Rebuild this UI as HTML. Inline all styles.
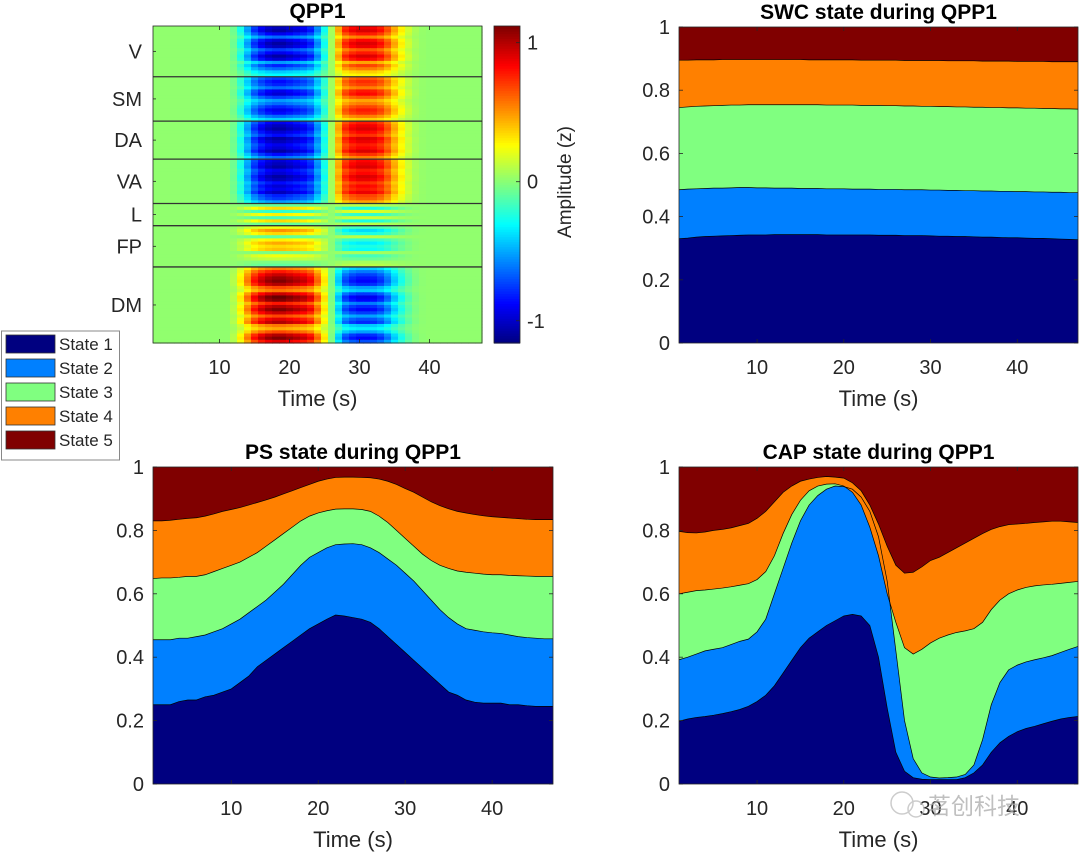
<!DOCTYPE html>
<html><head><meta charset="utf-8"><style>
html,body{margin:0;padding:0;background:#fff;}
svg{display:block;font-family:"Liberation Sans","Noto Sans CJK SC",sans-serif;}
</style></head><body>
<svg id="fig" width="1080" height="854" viewBox="0 0 1080 854">
<g id="hm"></g>
<g id="cb"></g>
<g id="swc"></g>
<g id="ps"></g>
<g id="cap"></g>
<g id="legend"></g>
<g opacity="0.75">
<circle cx="902" cy="803" r="11" fill="none" stroke="#bbb" stroke-width="1.5"/>
<circle cx="916" cy="809" r="8" fill="none" stroke="#bbb" stroke-width="1.5"/>
<text x="928" y="814" font-size="23" fill="#aaa">茗创科技</text>
</g>
</svg>
<script>
// ---------- data ----------
const timePoints = [1,2,3,4,5,6,7,8,9,10,11,12,13,14,15,16,17,18,19,20,21,22,23,24,25,26,27,28,29,30,31,32,33,34,35,36,37,38,39,40,41,42,43,44,45,46,47];
const stateNames = ["State 1","State 2","State 3","State 4","State 5"];
const stateColors = ["#000080","#0080ff","#80ff80","#ff8000","#800000"];

const swcB1 = [.33,.332,.335,.337,.338,.339,.34,.341,.342,.342,.342,.343,.343,.343,.343,.343,.343,.342,.342,.342,.342,.342,.342,.341,.341,.341,.34,.34,.34,.339,.338,.338,.337,.337,.336,.335,.335,.334,.333,.333,.332,.331,.331,.33,.329,.328,.327];
const swcB2 = [.485,.487,.488,.489,.49,.49,.491,.492,.492,.491,.491,.49,.49,.49,.489,.489,.489,.488,.488,.488,.487,.487,.487,.486,.486,.486,.485,.485,.485,.484,.484,.483,.483,.482,.482,.481,.481,.48,.48,.479,.479,.478,.478,.477,.477,.476,.476];
const swcB3 = [.745,.747,.749,.75,.751,.752,.753,.753,.754,.754,.754,.754,.754,.754,.754,.754,.754,.753,.753,.753,.753,.752,.752,.752,.751,.751,.75,.75,.749,.749,.748,.748,.747,.747,.746,.746,.745,.745,.744,.744,.743,.743,.742,.742,.741,.741,.74];
const swcB4 = [.895,.895,.896,.896,.896,.897,.897,.897,.897,.897,.897,.897,.897,.897,.897,.896,.896,.896,.896,.896,.896,.895,.895,.895,.895,.895,.894,.894,.894,.894,.894,.893,.893,.893,.893,.892,.892,.892,.892,.891,.891,.891,.891,.89,.89,.89,.89];

const psB1 = [.25,.25,.25,.26,.265,.265,.275,.28,.29,.30,.32,.34,.37,.39,.41,.43,.45,.47,.49,.505,.52,.533,.53,.525,.52,.51,.49,.465,.44,.415,.39,.365,.34,.315,.29,.28,.265,.258,.255,.255,.255,.25,.25,.247,.245,.245,.245];
const psB2 = [.455,.455,.455,.46,.46,.465,.47,.48,.49,.505,.52,.54,.56,.58,.605,.63,.66,.69,.715,.73,.745,.755,.757,.758,.755,.745,.73,.71,.69,.665,.64,.61,.58,.55,.525,.505,.49,.485,.48,.477,.475,.47,.465,.462,.46,.458,.458];
const psB3 = [.648,.65,.65,.652,.655,.655,.66,.67,.68,.69,.70,.715,.73,.75,.77,.79,.81,.83,.845,.855,.862,.867,.868,.868,.866,.86,.845,.825,.80,.775,.75,.725,.705,.69,.68,.672,.668,.665,.662,.66,.66,.658,.657,.656,.655,.655,.655];
const psB4 = [.83,.83,.832,.835,.838,.84,.845,.852,.86,.866,.872,.88,.888,.896,.905,.915,.925,.935,.945,.955,.962,.967,.968,.968,.967,.966,.962,.955,.945,.932,.92,.905,.89,.878,.868,.86,.855,.85,.846,.843,.841,.839,.837,.835,.834,.834,.834];

const capB1 = [.198,.205,.21,.213,.217,.222,.228,.235,.245,.26,.28,.31,.35,.39,.43,.46,.48,.5,.515,.53,.535,.53,.50,.40,.24,.10,.04,.02,.015,.014,.014,.014,.014,.02,.035,.06,.10,.13,.15,.165,.175,.182,.19,.198,.205,.21,.213];
const capB2 = [.392,.40,.41,.42,.425,.43,.44,.45,.457,.48,.52,.6,.68,.76,.83,.88,.91,.93,.94,.938,.93,.905,.86,.78,.64,.42,.2,.08,.035,.022,.019,.02,.022,.03,.06,.14,.25,.32,.36,.375,.385,.392,.398,.405,.415,.425,.434];
const capB3 = [.60,.605,.61,.612,.615,.618,.622,.627,.632,.645,.67,.72,.79,.85,.895,.925,.94,.946,.947,.94,.92,.88,.81,.72,.6,.51,.43,.41,.425,.445,.46,.47,.478,.483,.49,.51,.55,.58,.6,.612,.62,.625,.628,.63,.633,.636,.639];
const capB4 = [.797,.793,.792,.795,.8,.803,.808,.815,.822,.838,.86,.89,.92,.94,.955,.962,.967,.97,.968,.965,.95,.925,.88,.82,.75,.69,.665,.668,.685,.705,.715,.73,.745,.76,.775,.79,.803,.812,.818,.82,.822,.825,.827,.829,.829,.827,.825];

const yTicks = [0,0.2,0.4,0.6,0.8,1];
const yTickLabels = ["0","0.2","0.4","0.6","0.8","1"];
const xTicks = [10,20,30,40];
const xTickLabels = ["10","20","30","40"];

// heatmap data: temporal profile x per-row amplitude
const qppProfile = [0,0,0,0,0,0,0,0,0,0,0,-0.08,-0.28,-0.55,-0.8,-0.95,-1.05,-1.1,-1.1,-1.05,-1.0,-0.95,-0.85,-0.6,-0.3,0.05,0.45,0.75,0.85,0.9,0.9,0.88,0.8,0.65,0.45,0.28,0.14,0.05,0.01,0,0,0,0,0,0,0,0];
const qppBaseline = 0.02;
const networkNames = ["V","SM","DA","VA","L","FP","DM"];
const networkRowCounts = [16,14,12,14,7,13,24];
const rowAmplitudes = [
 0.95,1.0,0.85,0.6,0.9,1.0,0.95,0.7,0.85,1.0,0.9,0.5,0.75,0.6,0.4,0.3,
 0.7,0.8,0.75,0.6,0.85,0.9,0.7,0.5,0.6,0.75,0.85,0.8,0.6,0.4,
 0.85,0.95,1.0,0.9,0.8,1.0,0.95,0.85,0.9,1.0,0.8,0.6,
 0.9,0.95,1.0,0.85,0.9,1.0,0.95,0.8,0.9,0.85,0.95,0.75,0.7,0.5,
 0.1,-0.3,0.2,-0.25,0.15,-0.3,0.1,
 -0.2,-0.45,-0.3,0.1,-0.25,-0.4,-0.3,-0.35,0.05,-0.2,-0.1,0.05,0.1,
 -0.5,-0.7,-0.85,-0.95,-1.0,-0.9,-0.6,-0.5,-0.85,-1.05,-1.0,-0.7,-0.9,-1.0,-0.85,-0.6,-0.8,-0.9,-0.5,-0.4,-0.6,-0.9,-1.0,-0.8
];
const cbTicks = [-1,0,1];
const cbTickLabels = ["-1","0","1"];

// ---------- helpers ----------
const NS = "http://www.w3.org/2000/svg";
function mk(tag, attrs, parent){ const e=document.createElementNS(NS,tag); for(const k in attrs) e.setAttribute(k,attrs[k]); parent.appendChild(e); return e; }
function jet(v){
  const f=(x)=>Math.max(0,Math.min(1,x));
  const r=f(1.5-Math.abs(4*v-3)), g=f(1.5-Math.abs(4*v-2)), b=f(1.5-Math.abs(4*v-1));
  return "rgb("+Math.round(r*255)+","+Math.round(g*255)+","+Math.round(b*255)+")";
}
const axisColor="#262626";
const TICK_FS=20;

function drawAxesFrame(g, L, T, R, B, xs, ys, yt, ytl, xt, xtl){
  mk("rect",{x:L,y:T,width:R-L,height:B-T,fill:"none",stroke:axisColor,"stroke-width":0.8},g);
  if(yt){
    yt.forEach((v,i)=>{
      const y=ys(v);
      const t1=mk("line",{x1:L,y1:y,x2:L+4,y2:y,stroke:axisColor,"stroke-width":0.8},g);
      
      const t2=mk("line",{x1:R,y1:y,x2:R-4,y2:y,stroke:axisColor,"stroke-width":0.8},g);
      
      const tx=mk("text",{x:L-9,y:y+7,"font-size":TICK_FS,"text-anchor":"end",fill:axisColor},g);
      tx.textContent=ytl[i];
      
      
    });
  }
  xt.forEach((v,i)=>{
    const x=xs(v);
    const t1=mk("line",{x1:x,y1:B,x2:x,y2:B-4,stroke:axisColor,"stroke-width":0.8},g);
    
    const t2=mk("line",{x1:x,y1:T,x2:x,y2:T+4,stroke:axisColor,"stroke-width":0.8},g);
    
    const tx=mk("text",{x:x,y:B+31,"font-size":TICK_FS,"text-anchor":"middle",fill:axisColor},g);
    tx.textContent=xtl[i];
    
    
  });
  const xl=mk("text",{x:(L+R)/2,y:B+63,"font-size":22,"text-anchor":"middle",fill:axisColor},g);
  xl.textContent="Time (s)";
  
  
}
function title(g, x, y, s){
  const t=mk("text",{x:x,y:y,"font-size":21,"font-weight":"bold","text-anchor":"middle",fill:"#000"},g);
  t.textContent=s;
  
  
}

function stackChart(g, L, T, R, B, bounds, ttl){
  const xs=(t)=>L+(t-1)/(46)*(R-L);
  const ys=(v)=>B-v*(B-T);
  const lower=[timePoints.map(()=>0)].concat(bounds);
  const upper=bounds.concat([timePoints.map(()=>1)]);
  for(let k=0;k<5;k++){
    let d="";
    timePoints.forEach((t,i)=>{ d+=(i?"L":"M")+xs(t).toFixed(2)+","+ys(upper[k][i]).toFixed(2); });
    for(let i=timePoints.length-1;i>=0;i--){ d+="L"+xs(timePoints[i]).toFixed(2)+","+ys(lower[k][i]).toFixed(2); }
    d+="Z";
    const p=mk("path",{d:d,fill:stateColors[k],stroke:"none"},g);
    
    
  }
  bounds.forEach((b,k)=>{
    let d="";
    timePoints.forEach((t,i)=>{ d+=(i?"L":"M")+xs(t).toFixed(2)+","+ys(b[i]).toFixed(2); });
    const p=mk("path",{d:d,fill:"none",stroke:"#000","stroke-width":0.7},g);
    
    
  });
  drawAxesFrame(g,L,T,R,B,xs,ys,yTicks,yTickLabels,xTicks,xTickLabels);
  title(g,(L+R)/2,T-8,ttl);
}

// ---------- heatmap ----------
(function(){
  const g=document.getElementById("hm");
  const L=153,T=26,R=482,B=343;
  const nRows=rowAmplitudes.length;
  const cmin=-1.16,cmax=1.12;
  const xs=(t)=>L+(t-0.5)/47*(R-L);
  const rh=(B-T)/nRows, cw=(R-L)/47;
  rowAmplitudes.forEach((a,r)=>{
    qppProfile.forEach((p,c)=>{
      const v=qppBaseline+a*p;
      const cell=mk("rect",{x:(L+c*cw).toFixed(2),y:(T+r*rh).toFixed(2),width:(cw+0.6).toFixed(2),height:(rh+0.6).toFixed(2),fill:jet((v-cmin)/(cmax-cmin))},g);
      
      
    });
  });
  let acc=0;
  networkRowCounts.forEach((n,i)=>{
    const y0=T+acc*rh, y1=T+(acc+n)*rh;
    if(i>0){
      const ln=mk("line",{x1:L,y1:y0,x2:R,y2:y0,stroke:"#333","stroke-width":1.3},g);
      
    }
    const lb=mk("text",{x:L-11,y:(y0+y1)/2+7,"font-size":20,"text-anchor":"end",fill:axisColor},g);
    lb.textContent=networkNames[i];
    
    
    const tk=mk("line",{x1:L,y1:(y0+y1)/2,x2:L+3,y2:(y0+y1)/2,stroke:axisColor,"stroke-width":0.8},g);
    
    acc+=n;
  });
  drawAxesFrame(g,L,T,R,B,xs,(v)=>v,null,null,xTicks,xTickLabels);
  title(g,(L+R)/2,18,"QPP1");
})();

// ---------- colorbar ----------
(function(){
  const g=document.getElementById("cb");
  const L=494,R=520,T=26,B=343,cmin=-1.16,cmax=1.12;
  const ys=(v)=>B-(v-cmin)/(cmax-cmin)*(B-T);
  const n=128;
  for(let i=0;i<n;i++){
    const r=mk("rect",{x:L,y:(B-(i+1)*(B-T)/n).toFixed(2),width:R-L,height:((B-T)/n+0.6).toFixed(2),fill:jet((i+0.5)/n)},g);
    
  }
  mk("rect",{x:L,y:T,width:R-L,height:B-T,fill:"none",stroke:axisColor,"stroke-width":0.8},g);
  cbTicks.forEach((v,i)=>{
    const y=ys(v);
    mk("line",{x1:R,y1:y,x2:R-4,y2:y,stroke:axisColor,"stroke-width":0.8},g);
    const t=mk("text",{x:R+7,y:y+7,"font-size":TICK_FS,fill:axisColor},g);
    t.textContent=cbTickLabels[i];
    
    
  });
  const lb=mk("text",{x:0,y:0,"font-size":19,"text-anchor":"middle",fill:axisColor,transform:"translate(571,182) rotate(-90)"},g);
  lb.textContent="Amplitude (z)";
  
  
})();

stackChart(document.getElementById("swc"),679,27,1078,343,[swcB1,swcB2,swcB3,swcB4],"SWC state during QPP1");
stackChart(document.getElementById("ps"),153,467,553,784,[psB1,psB2,psB3,psB4],"PS state during QPP1");
stackChart(document.getElementById("cap"),679,467,1078,784,[capB1,capB2,capB3,capB4],"CAP state during QPP1");

// ---------- legend ----------
(function(){
  const g=document.getElementById("legend");
  mk("rect",{x:1.5,y:331,width:118,height:129,fill:"#fff",stroke:"#888","stroke-width":1},g);
  stateNames.forEach((s,i)=>{
    const y=335+i*24;
    const sw=mk("rect",{x:6,y:y,width:49,height:18,fill:stateColors[i],stroke:"#333","stroke-width":0.8},g);
    
    
    const t=mk("text",{x:59,y:y+15,"font-size":17,fill:axisColor},g);
    t.textContent=s;
    
    
  });
})();
</script>
</body></html>
